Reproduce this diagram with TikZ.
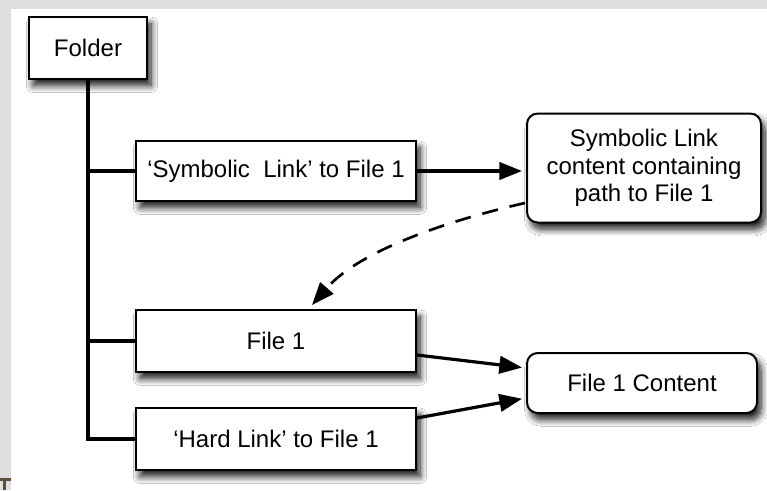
\documentclass[tikz,border=0pt]{standalone}
\usepackage{fontspec}
\setmainfont{Liberation Sans}
\usepackage{xcolor}
\usetikzlibrary{arrows.meta,calc,shadows.blur}
\definecolor{pagegray}{RGB}{222,222,222}
\definecolor{markbrown}{RGB}{91,78,64}

\tikzset{
  box/.style={draw, line width=1.5pt, fill=white, minimum width=210pt, minimum height=46.5pt, inner sep=2pt,
    blur shadow={shadow xshift=3pt, shadow yshift=-5pt, shadow blur radius=5pt, shadow blur steps=10, shadow opacity=90},
    font=\fontsize{18}{20.5}\selectfont},
  roundbox/.style={box, rounded corners=8pt, align=center},
  link/.style={line width=2.4pt, -{Triangle[length=17pt,width=13pt]}},
  tree/.style={line width=2.6pt}
}

\begin{document}
\begin{tikzpicture}[x=0.75pt,y=0.75pt,yscale=-1,xscale=1]
%page edge
\fill[pagegray] (0,0) rectangle (767,490);
\fill[white] (11,9) rectangle (767,490);
\fill[markbrown] (0,478) rectangle (11,481);
\fill[markbrown] (3,481) rectangle (6,490);

%Shape: Rectangle
\node (folder) at (88,48) [box, minimum width=88.5pt] {Folder};
%Shape: Rectangle
\node (symlink) at (276,171) [box, minimum height=45pt] {‘Symbolic~~Link’ to File 1};
%Rounded Rect
\node (symcontent) at (644,168) [roundbox, minimum width=175.5pt, minimum height=81.75pt] {Symbolic Link\\content containing\\path to File 1};
%Shape: Rectangle
\node (file1) at (276,341) [box] {File 1};
%Shape: Rectangle
\node (hardlink) at (276,439) [box] {‘Hard Link’ to File 1};
%Rounded Rect
\node (content) at (642,383) [roundbox, minimum width=172.5pt, minimum height=45pt] {File 1 Content};

%Tree Lines
\draw[tree] (folder.south) |- (hardlink.west);
\draw[tree] (folder.south |- symlink.west) -- (symlink.west);
\draw[tree] (folder.south |- file1.west) -- (file1.west);

%Straight Lines
\draw[link, shorten >=3pt] (symlink.east) -- (symlink.east -| symcontent.west);
\draw[link, shorten >=3pt] ($(file1.east)+(0,14)$) -- ($(content.west)+(0,-15)$);
\draw[link, shorten >=3pt] ($(hardlink.east)+(0,-21)$) -- ($(content.west)+(0,15)$);
%Curve Lines
\draw[link, dash pattern=on 12pt off 9pt, line width=2pt] ($(symcontent.west)+(-1,35)$) .. controls (450,220) and (360,250) .. ($(file1.north)+(36,-4)$);

\end{tikzpicture}
\end{document}
